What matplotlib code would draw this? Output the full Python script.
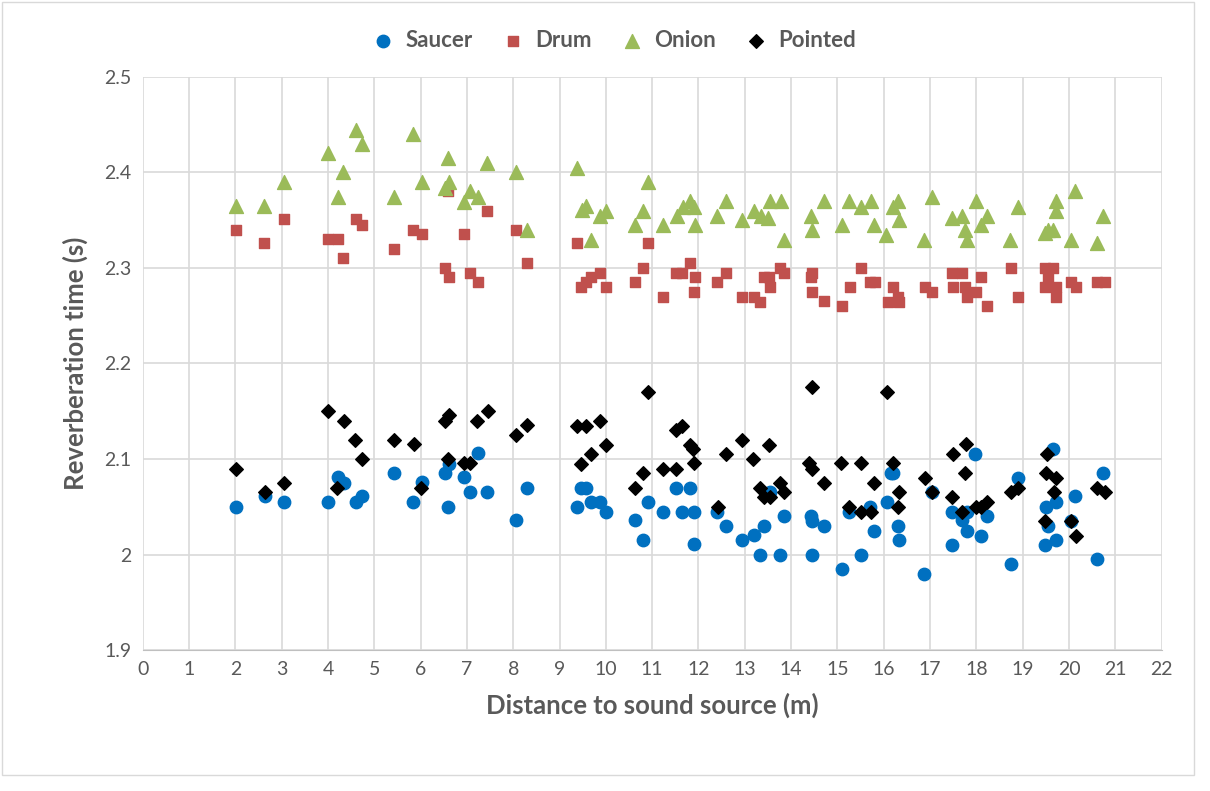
import matplotlib.pyplot as plt
from matplotlib.ticker import FormatStrFormatter, MultipleLocator
from matplotlib.patches import Rectangle

plt.rcParams['font.family'] = ['Lato', 'DejaVu Sans']

# Saucer
saucer_x = [2.01, 2.63, 3.05, 3.99, 4.21, 4.34, 4.60, 4.74, 5.43, 5.84, 6.03, 6.53,
            6.62, 6.59, 6.94, 7.07, 7.24, 7.43, 8.06, 8.30, 9.38, 9.47, 9.58, 9.67,
            9.88, 10.01, 10.62, 10.81, 10.92, 11.23, 11.51, 11.65, 11.81, 11.90, 11.90,
            12.41, 12.59, 12.93, 13.20, 13.33, 13.42, 13.55, 13.77, 13.84, 14.42, 14.45,
            14.45, 14.71, 15.10, 15.26, 15.50, 15.71, 15.80, 16.07, 16.16, 16.20, 16.31,
            16.33, 16.88, 17.05, 17.48, 17.48, 17.68, 17.79, 17.79, 17.98, 18.11, 18.23,
            18.74, 18.89, 19.48, 19.50, 19.55, 19.66, 19.73, 19.73, 20.04, 20.13, 20.61,
            20.74]
saucer_y = [2.05, 2.061, 2.055, 2.055, 2.081, 2.075, 2.055, 2.061, 2.085, 2.055, 2.076, 2.085,
            2.095, 2.05, 2.081, 2.065, 2.106, 2.065, 2.036, 2.07, 2.05, 2.07, 2.07, 2.055,
            2.055, 2.045, 2.036, 2.015, 2.055, 2.045, 2.07, 2.045, 2.07, 2.045, 2.011,
            2.045, 2.03, 2.015, 2.021, 2.0, 2.03, 2.065, 2.0, 2.04, 2.04, 2.035,
            2.0, 2.03, 1.985, 2.045, 2.0, 2.05, 2.025, 2.055, 2.085, 2.085, 2.03,
            2.015, 1.98, 2.065, 2.045, 2.01, 2.036, 2.045, 2.025, 2.105, 2.02, 2.04,
            1.99, 2.08, 2.01, 2.05, 2.03, 2.11, 2.055, 2.015, 2.035, 2.061, 1.995,
            2.085]

# Drum
drum_x = [2.02, 2.62, 3.05, 3.99, 4.21, 4.33, 4.60, 4.73, 5.43, 5.84, 6.03, 6.53,
          6.60, 6.62, 6.94, 7.06, 7.24, 7.43, 8.06, 8.30, 9.38, 9.47, 9.56, 9.68,
          9.88, 10.01, 10.62, 10.81, 10.91, 11.24, 11.51, 11.65, 11.81, 11.90, 11.92,
          12.41, 12.59, 12.93, 13.20, 13.33, 13.42, 13.53, 13.55, 13.77, 13.84, 14.42,
          14.45, 14.45, 14.71, 15.10, 15.27, 15.51, 15.71, 15.82, 16.09, 16.20, 16.31,
          16.32, 16.90, 17.05, 17.48, 17.50, 17.68, 17.75, 17.79, 17.99, 18.11, 18.23,
          18.74, 18.89, 19.48, 19.48, 19.55, 19.66, 19.73, 19.73, 20.04, 20.15, 20.60,
          20.78]
drum_y = [2.34, 2.326, 2.351, 2.33, 2.33, 2.31, 2.351, 2.345, 2.32, 2.34, 2.335, 2.30,
          2.38, 2.29, 2.335, 2.295, 2.285, 2.36, 2.34, 2.305, 2.326, 2.28, 2.285, 2.29,
          2.295, 2.28, 2.285, 2.30, 2.326, 2.27, 2.295, 2.295, 2.305, 2.275, 2.29,
          2.285, 2.295, 2.27, 2.27, 2.264, 2.29, 2.29, 2.28, 2.30, 2.295, 2.29,
          2.295, 2.275, 2.265, 2.26, 2.28, 2.30, 2.285, 2.285, 2.264, 2.28, 2.27,
          2.264, 2.28, 2.275, 2.295, 2.28, 2.295, 2.28, 2.27, 2.275, 2.29, 2.26,
          2.30, 2.27, 2.30, 2.28, 2.29, 2.30, 2.28, 2.27, 2.285, 2.28, 2.285,
          2.285]

# Onion
onion_x = [2.02, 2.62, 3.05, 3.99, 4.21, 4.33, 4.60, 4.73, 5.43, 5.84, 6.03, 6.53,
           6.60, 6.62, 6.94, 7.06, 7.24, 7.43, 8.06, 8.30, 9.38, 9.49, 9.56, 9.68,
           9.88, 10.01, 10.62, 10.81, 10.91, 11.24, 11.53, 11.67, 11.82, 11.90, 11.92,
           12.41, 12.59, 12.93, 13.19, 13.35, 13.49, 13.55, 13.78, 13.84, 14.43, 14.45,
           14.71, 15.10, 15.26, 15.51, 15.73, 15.80, 16.05, 16.20, 16.31, 16.32, 16.88,
           17.05, 17.48, 17.68, 17.75, 17.79, 17.99, 18.11, 18.24, 18.72, 18.89, 19.48,
           19.55, 19.66, 19.71, 19.71, 20.04, 20.13, 20.61, 20.74]
onion_y = [2.365, 2.365, 2.39, 2.42, 2.374, 2.40, 2.444, 2.43, 2.374, 2.44, 2.39, 2.384,
           2.415, 2.39, 2.369, 2.38, 2.374, 2.41, 2.40, 2.34, 2.404, 2.361, 2.365, 2.329,
           2.354, 2.36, 2.345, 2.36, 2.39, 2.345, 2.354, 2.364, 2.37, 2.364, 2.345,
           2.354, 2.37, 2.35, 2.36, 2.354, 2.352, 2.37, 2.37, 2.329, 2.354, 2.34,
           2.37, 2.345, 2.37, 2.364, 2.37, 2.345, 2.334, 2.364, 2.37, 2.35, 2.329,
           2.374, 2.352, 2.354, 2.34, 2.329, 2.37, 2.345, 2.354, 2.329, 2.364, 2.336,
           2.34, 2.34, 2.37, 2.36, 2.329, 2.38, 2.326, 2.354]

# Pointed
pointed_x = [2.01, 2.63, 3.05, 4.00, 4.19, 4.34, 4.58, 4.74, 5.43, 5.86, 6.01, 6.53,
             6.62, 6.59, 6.94, 7.07, 7.22, 7.45, 8.06, 8.30, 9.37, 9.47, 9.56, 9.67,
             9.87, 10.01, 10.62, 10.81, 10.92, 11.23, 11.51, 11.52, 11.65, 11.81, 11.89,
             11.90, 12.42, 12.59, 12.93, 13.18, 13.33, 13.42, 13.53, 13.55, 13.77, 13.84,
             14.39, 14.45, 14.45, 14.71, 15.08, 15.26, 15.50, 15.51, 15.73, 15.79, 16.07,
             16.20, 16.31, 16.32, 16.90, 17.05, 17.48, 17.50, 17.68, 17.76, 17.77, 18.00,
             18.11, 18.22, 18.74, 18.89, 19.48, 19.50, 19.53, 19.68, 19.72, 20.04, 20.15,
             20.61, 20.77]
pointed_y = [2.09, 2.065, 2.075, 2.15, 2.07, 2.14, 2.12, 2.10, 2.12, 2.116, 2.07, 2.14,
             2.146, 2.10, 2.096, 2.096, 2.14, 2.15, 2.125, 2.136, 2.135, 2.095, 2.135, 2.105,
             2.14, 2.115, 2.07, 2.085, 2.17, 2.09, 2.09, 2.13, 2.135, 2.115, 2.11,
             2.096, 2.05, 2.105, 2.12, 2.10, 2.07, 2.06, 2.115, 2.06, 2.075, 2.065,
             2.096, 2.175, 2.09, 2.075, 2.096, 2.05, 2.045, 2.096, 2.045, 2.075, 2.17,
             2.096, 2.05, 2.065, 2.08, 2.065, 2.06, 2.105, 2.045, 2.085, 2.116, 2.05,
             2.05, 2.055, 2.065, 2.07, 2.035, 2.085, 2.105, 2.065, 2.08, 2.035, 2.02,
             2.07, 2.065]

gray = '#595959'

fig = plt.figure(figsize=(12.1, 7.91), dpi=100)
ax = fig.add_axes([0.118, 0.178, 0.842, 0.725])

ax.scatter(saucer_x, saucer_y, marker='o', s=80, color='#0070C0', label='Saucer', zorder=3)
ax.scatter(drum_x, drum_y, marker='s', s=58, color='#C0504D', label='Drum', zorder=3)
ax.scatter(onion_x, onion_y, marker='^', s=100, color='#9BBB59', label='Onion', zorder=3)
ax.scatter(pointed_x, pointed_y, marker='D', s=48, color='black', label='Pointed', zorder=4)

ax.set_xlim(0, 22)
ax.set_ylim(1.9, 2.5)
ax.xaxis.set_major_locator(MultipleLocator(1))
ax.yaxis.set_major_locator(MultipleLocator(0.1))
ax.yaxis.set_major_formatter(FormatStrFormatter('%g'))
ax.grid(color='#D9D9D9', linewidth=1.2)
ax.set_axisbelow(True)
for s in ['top', 'right', 'left']:
    ax.spines[s].set_visible(False)
ax.spines['bottom'].set_color('#BFBFBF')
ax.tick_params(length=0, labelsize=14, labelcolor=gray, pad=8)

ax.set_xlabel('Distance to sound source (m)', fontsize=18.5, fontweight='bold', color=gray, labelpad=10)
ax.set_ylabel('Reverberation time (s)', fontsize=18.5, fontweight='bold', color=gray, labelpad=12)

ax.legend(loc='lower center', bbox_to_anchor=(0.457, 1.01), ncol=4, frameon=False,
          handletextpad=0.0, columnspacing=0.8, labelcolor=gray,
          prop={'size': 16, 'weight': 'bold'})

fig.patches.append(Rectangle((0.002, 0.02), 0.985, 0.977, transform=fig.transFigure,
                             fill=False, edgecolor='#D9D9D9', linewidth=1))

plt.savefig('out.png', dpi=100)
